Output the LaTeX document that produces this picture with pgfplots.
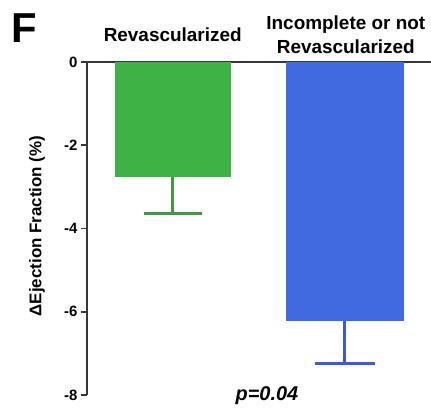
\documentclass[border=0pt]{standalone}
\usepackage{fontspec}
\setmainfont{Liberation Sans}
\usepackage{pgfplots}
\pgfplotsset{compat=1.18}
\definecolor{barG}{RGB}{61,178,69}
\definecolor{barB}{RGB}{66,106,224}
\definecolor{errG}{RGB}{70,150,72}
\definecolor{errB}{RGB}{62,92,200}
\definecolor{axc}{RGB}{55,55,55}
\begin{document}
\begin{tikzpicture}
\begin{axis}[
  scale only axis,
  width=344bp, height=333bp,
  xmin=0.5, xmax=2.507,
  ymin=-8, ymax=0,
  axis y line*=left,
  axis x line*=top,
  axis line style={line width=2.2bp, color=axc, -},
  xtick=\empty,
  ytick={-8,-6,-4,-2,0},
  yticklabels={-8,-6,-4,-2,0},
  yticklabel style={font=\fontsize{15}{15}\selectfont\bfseries, text=black},
  tick align=outside,
  major tick length=6bp,
  tick style={line width=1.6bp, color=axc},
  clip=false,
]
\addplot[ybar, bar width=116bp, fill=barG, draw=none,
  error bars/.cd, y dir=minus, y explicit,
  error bar style={line width=3bp, color=errG},
  error mark options={rotate=90, mark size=29bp, line width=3bp, color=errG}]
  coordinates {(1,-2.76) -= (0,0.87)};
\addplot[ybar, bar width=118bp, fill=barB, draw=none,
  error bars/.cd, y dir=minus, y explicit,
  error bar style={line width=3bp, color=errB},
  error mark options={rotate=90, mark size=30bp, line width=3bp, color=errB}]
  coordinates {(2.005,-6.22) -= (0,1.02)};
\node[font=\fontsize{19}{24}\selectfont\bfseries, align=center] at (axis cs:1,0.65) {Revascularized};
\node[font=\fontsize{19}{24}\selectfont\bfseries, align=center] at (axis cs:2.01,0.65) {Incomplete or not\\Revascularized};
\node[font=\fontsize{20}{20}\selectfont\bfseries\itshape] at (axis cs:1.55,-8.02) {p=0.04};
\node[font=\fontsize{17}{17}\selectfont\bfseries, rotate=90] at (axis cs:0.2085,-3.94) {ΔEjection Fraction (\%)};
\node[font=\fontsize{42}{42}\selectfont\bfseries, anchor=west] at (axis cs:0.039,0.82) {F};
\end{axis}
\pgfresetboundingbox
\path (-87bp,-13bp) rectangle (344bp,395bp);
\end{tikzpicture}
\end{document}
